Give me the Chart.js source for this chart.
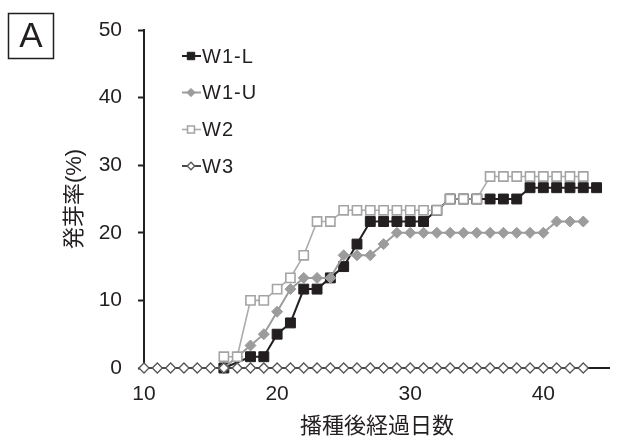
<!DOCTYPE html>
<html>
<head>
<meta charset="utf-8">
<script src="https://cdn.jsdelivr.net/npm/chart.js@4.4.1/dist/chart.umd.min.js"></script>
<style>
  html, body { margin: 0; padding: 0; background: #fff; }
</style>
</head>
<body>
<canvas id="myChart" width="618" height="441"></canvas>
<script>
// days after sowing
const days = [10,11,12,13,14,15,16,17,18,19,20,21,22,23,24,25,26,27,28,29,30,31,32,33,34,35,36,37,38,39,40,41,42,43,44];

// germination rate (%) per series, starting at day 10 (null = no point)
const w1L = [null,null,null,null,null,null,0,null,1.67,1.67,5,6.67,11.67,11.67,13.33,15,18.33,21.67,21.67,21.67,21.67,21.67,23.33,25,25,25,25,25,25,26.67,26.67,26.67,26.67,26.67,26.67];
const w1U = [null,null,null,null,null,null,0,1.67,3.33,5,8.33,11.67,13.33,13.33,13.33,16.67,16.67,16.67,18.33,20,20,20,20,20,20,20,20,20,20,20,20,21.67,21.67,21.67];
const w2  = [null,null,null,null,null,null,1.67,1.67,10,10,11.67,13.33,16.67,21.67,21.67,23.33,23.33,23.33,23.33,23.33,23.33,23.33,23.33,25,25,25,28.33,28.33,28.33,28.33,28.33,28.33,28.33,28.33];
const w3  = [0,0,0,0,0,0,0,0,0,0,0,0,0,0,0,0,0,0,0,0,0,0,0,0,0,0,0,0,0,0,0,0,0,0];

const seriesNames = ["W1-L", "W1-U", "W2", "W3"];
const xTicks = [10, 20, 30, 40];
const yTicks = [0, 10, 20, 30, 40, 50];

const ink = '#231f20';
const fontStack = "'Liberation Sans', Arial, 'Noto Sans CJK JP', sans-serif";

const toPoints = vals => vals.map((v, i) => ({ x: days[i], y: v }));

// panel letter + legend drawn inside the plot
const extras = {
  id: 'extras',
  afterDraw(chart) {
    const ctx = chart.ctx;
    ctx.save();
    // boxed "A"
    ctx.strokeStyle = ink;
    ctx.lineWidth = 1.5;
    ctx.strokeRect(8.5, 13.5, 45, 45);
    ctx.fillStyle = ink;
    ctx.font = '35px ' + fontStack;
    ctx.textAlign = 'center';
    ctx.textBaseline = 'alphabetic';
    ctx.fillText('A', 31, 47);

    // legend
    const rowY = [56, 92.5, 129.5, 166];
    chart.data.datasets.forEach((ds, i) => {
      const y = rowY[i];
      ctx.strokeStyle = ds.borderColor;
      ctx.lineWidth = ds.borderWidth;
      ctx.beginPath();
      ctx.moveTo(182, y);
      ctx.lineTo(201, y);
      ctx.stroke();
      ctx.fillStyle = ds.pointBackgroundColor;
      ctx.strokeStyle = ds.pointBorderColor;
      ctx.lineWidth = ds.pointBorderWidth;
      Chart.helpers.drawPoint(ctx, {
        pointStyle: ds.pointStyle,
        radius: ds.pointRadius * 0.75,
        rotation: 0,
        borderWidth: ds.pointBorderWidth
      }, 191, y);
      ctx.fillStyle = ink;
      ctx.font = '20px ' + fontStack;
      ctx.textAlign = 'left';
      ctx.textBaseline = 'middle';
      if ('letterSpacing' in ctx) ctx.letterSpacing = '1px';
      ctx.fillText(ds.label, 202, y + 1);
      if ('letterSpacing' in ctx) ctx.letterSpacing = '0px';
    });
    ctx.restore();
  }
};

const chart = new Chart(document.getElementById('myChart'), {
  type: 'line',
  data: {
    datasets: [
      {
        label: seriesNames[0],
        data: toPoints(w1L),
        order: 4,
        spanGaps: true,
        borderColor: ink,
        borderWidth: 2,
        pointStyle: 'rect',
        pointRadius: 7,
        pointBackgroundColor: ink,
        pointBorderColor: ink,
        pointBorderWidth: 1
      },
      {
        label: seriesNames[1],
        data: toPoints(w1U),
        order: 3,
        borderColor: '#9c9c9c',
        borderWidth: 2,
        pointStyle: 'rectRot',
        pointRadius: 5.5,
        pointBackgroundColor: '#9c9c9c',
        pointBorderColor: '#9c9c9c',
        pointBorderWidth: 1
      },
      {
        label: seriesNames[2],
        data: toPoints(w2),
        order: 2,
        borderColor: '#acacac',
        borderWidth: 1.6,
        pointStyle: 'rect',
        pointRadius: 6.5,
        pointBackgroundColor: '#ffffff',
        pointBorderColor: '#a4a4a4',
        pointBorderWidth: 1.6
      },
      {
        label: seriesNames[3],
        data: toPoints(w3),
        order: 1,
        borderColor: '#4a4a4a',
        borderWidth: 2,
        pointStyle: 'rectRot',
        pointRadius: 5,
        pointBackgroundColor: '#ffffff',
        pointBorderColor: '#555555',
        pointBorderWidth: 1.3
      }
    ]
  },
  options: {
    responsive: false,
    animation: false,
    clip: false,
    elements: { line: { tension: 0 } },
    layout: { padding: { top: 30, right: 0, left: 0, bottom: 0 } },
    plugins: {
      legend: { display: false },
      tooltip: { enabled: false }
    },
    scales: {
      x: {
        type: 'linear',
        min: 10,
        max: 45,
        afterBuildTicks: s => { s.ticks = xTicks.map(v => ({ value: v })); },
        afterFit: s => { s.height = 73; },
        grid: { drawOnChartArea: false, tickLength: 4, tickColor: ink, tickWidth: 1.5 },
        border: { color: ink, width: 2 },
        ticks: { color: ink, font: { family: fontStack, size: 21 }, padding: 10, maxRotation: 0 },
        title: {
          display: true,
          text: '播種後経過日数',
          color: ink,
          font: { family: fontStack, size: 22 },
          padding: { top: 0, bottom: 1 }
        }
      },
      y: {
        min: 0,
        max: 50,
        afterBuildTicks: s => { s.ticks = yTicks.map(v => ({ value: v })); },
        afterFit: s => { s.width = 144; },
        grid: { drawOnChartArea: false, tickLength: 6, tickColor: ink, tickWidth: 2 },
        border: { color: ink, width: 2 },
        ticks: { color: ink, font: { family: fontStack, size: 21 }, padding: 16 },
        title: {
          display: true,
          text: '発芽率(%)',
          color: ink,
          font: { family: fontStack, size: 22 },
          padding: { top: 62, bottom: 0 }
        }
      }
    }
  },
  plugins: [extras]
});
</script>
</body>
</html>
